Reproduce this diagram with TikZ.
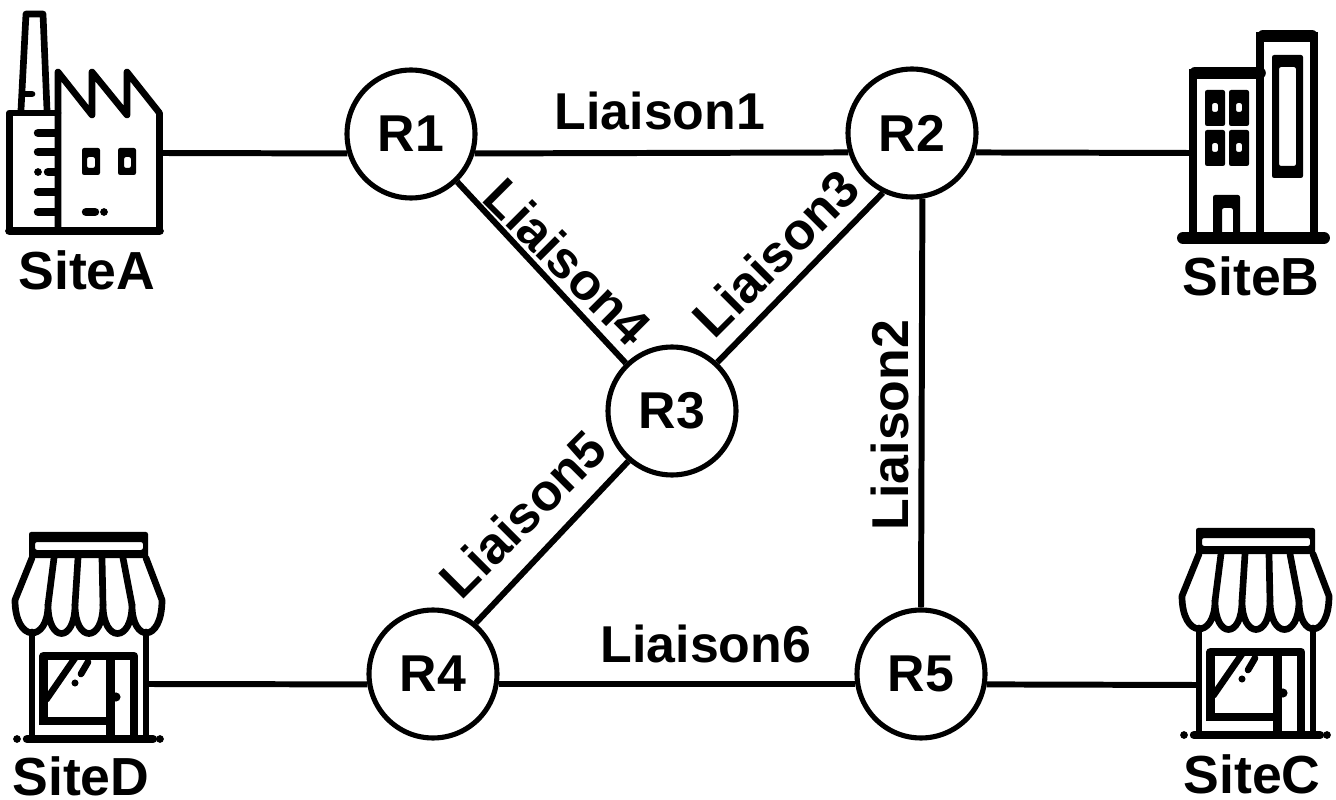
\documentclass[tikz,border=0pt]{standalone}
\usepackage{fontspec}
\setmainfont{Liberation Sans}
\usetikzlibrary{positioning}
\tikzset{
    routeur/.style={draw,circle,line width=2.9pt,minimum size=2.56cm,inner sep=0pt,fill=white,font=\bfseries\fontsize{29.5}{30}\selectfont},
    liaison/.style={line width=3.4pt},
    libelle/.style={anchor=base,inner sep=0pt,font=\bfseries\fontsize{29.5}{30}\selectfont},
    nomsite/.style={libelle,font=\bfseries\fontsize{30.5}{31}\selectfont},
    trait/.style={line width=3.8pt,line cap=round,line join=round},
    epais/.style={line width=4.8pt,line cap=round,line join=round},
    plein/.style={fill=black,even odd rule,rounded corners=1.2pt},
    boutique/.pic={
        \path[plein] (29,532) rectangle (148,558) (35,542) rectangle (143,550);
        % store
        \draw[trait] (32,558) -- (15,600) .. controls (15,643) and (48,643) .. (48,605)
            .. controls (48,643) and (75,643) .. (75,605)
            .. controls (75,643) and (103,643) .. (103,605)
            .. controls (103,643) and (132,643) .. (132,605)
            .. controls (132,643) and (162,643) .. (162,600) -- (146,558);
        \draw[trait] (54,558) -- (48,605) (78,558) -- (75,605) (102,558) -- (103,605) (123,558) -- (132,605);
        \draw[trait] (32,632) -- (32,737) (146,632) -- (146,737);
        \draw[epais] (27,739) -- (153,739);
        \fill (17,739) circle (2.2pt) (160,739) circle (2.2pt);
        \draw[epais,line cap=butt] (43.5,725) -- (43.5,656) -- (134,656) -- (134,739);
        \draw[epais,line cap=butt] (41,721) -- (110.5,721) (110.5,656) -- (110.5,739);
        \draw[trait,line cap=butt] (46,700) -- (75,658);
        \draw[trait] (81,674) -- (88,662);
        \fill (75,683) circle (2pt) (116,697) circle (2.6pt);
    }
}
\begin{document}
\begin{tikzpicture}[x=0.02cm,y=-0.02cm]
    \useasboundingbox (0,0) rectangle (1336,800);
    % routers
    \node[routeur] (R1) at (411,134) {R1};
    \node[routeur] (R2) at (912,133) {R2};
    \node[routeur] (R3) at (672,411) {R3};
    \node[routeur] (R4) at (433,674) {R4};
    \node[routeur] (R5) at (921,674) {R5};

    % factory
    \draw[trait,line cap=butt] (21,110) -- (26,14) -- (43,14) -- (47,110);
    \draw[trait] (25,94) -- (32,94);
    \draw[trait] (9.5,231) -- (9.5,113) -- (58,113);
    \draw[trait] (58,231) -- (58,72) -- (92,115) -- (92,72) -- (127,115) -- (127,72) -- (159.5,113) -- (159.5,231);
    \draw[line width=5pt,line cap=round] (9.5,231) -- (159.5,231);
    \foreach \y in {133,152,192,212}
        \draw[epais] (38,\y) -- (55,\y);
    \draw[epais] (48,172) -- (55,172);
    \fill (38,172) circle (2.2pt);
    \path[plein] (82,148) rectangle (100,175) (87,157) rectangle (95,168);
    \path[plein] (118,148) rectangle (136,175) (124,157) rectangle (131,168);
    \draw[epais] (86,212) -- (95,212);
    \fill (104,212) circle (2.2pt);
    \coordinate (usine) at (162,153);

    % office
    \draw[line width=4pt] (1193,238) -- (1193,73) -- (1260,73);
    \draw[line width=4pt] (1260,238) -- (1260,36) -- (1314,36) -- (1314,238);
    \draw[line width=6.6pt,line cap=round] (1195,73) -- (1260,73) (1263,36) -- (1312,36);
    \draw[line width=6.8pt,line cap=round] (1183,238) -- (1324,238);
    \path[plein] (1272,55) rectangle (1303,178) (1279,67) rectangle (1296,166);
    \foreach \x/\xx in {1205/1212,1229/1236}
        \foreach \y/\yy in {90/103,130/143}
            \path[plein] (\x,\y) rectangle +(20,36) (\xx,\yy) rectangle +(6,9);
    \path[plein] (1213,238) -- (1213,195) -- (1240,195) -- (1240,238) -- (1233,238) -- (1233,208) -- (1222,208) -- (1222,238) -- cycle;
    \coordinate (bureau) at (1190,153);

    % shops
    \pic at (0,0) {boutique};
    \pic at (1167,-4) {boutique};
    \coordinate (magasinD) at (148,684);
    \coordinate (magasinC) at (1197,685);

    % links
    \draw[liaison] (usine) -- (R1.197);
    \draw[liaison] (R1.-17) -- (R2.197);
    \draw[liaison] (R2.-17) -- (bureau);
    \draw[liaison] (R2.279) -- (R5.north);
    \draw[liaison] (R2.244) -- (R3.47);
    \draw[liaison] (R1.-46) -- (R3.134);
    \draw[liaison] (R3.229) -- (R4.50);
    \draw[liaison] (magasinD) -- (R4.189);
    \draw[liaison] (R4.-9) -- (R5.189);
    \draw[liaison] (R5.-9) -- (magasinC);

    % labels
    \node[nomsite] (SiteA) at (87,290) {SiteA};
    \node[nomsite] (SiteB) at (1251,296) {SiteB};
    \node[nomsite] (SiteC) at (1252,793) {SiteC};
    \node[nomsite] (SiteD) at (81,795) {SiteD};
    \node[libelle] (L1) at (660,130) {Liaison1};
    \node[libelle,rotate=90] (L2) at (908,425) {Liaison2};
    \node[libelle,rotate=45] (L3) at (789,266) {Liaison3};
    \node[libelle,rotate=-45] (L4) at (555,275) {Liaison4};
    \node[libelle,rotate=45] (L5) at (536,527) {Liaison5};
    \node[libelle] (L6) at (706,662) {Liaison6};
\end{tikzpicture}
\end{document}
